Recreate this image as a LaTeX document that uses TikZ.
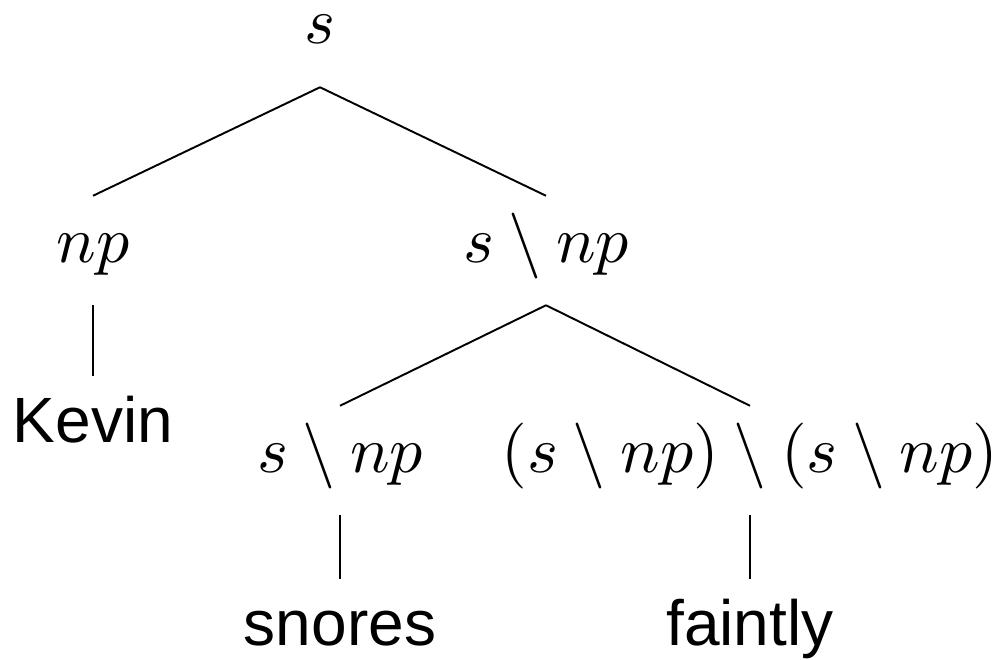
\RequirePackage{fix-cm}
\documentclass[tikz,border=0pt]{standalone}
\usepackage{fontspec}
\newfontfamily\wordfont{Liberation Sans}
\begin{document}
\begin{tikzpicture}[x=0.15625pt,y=-0.15625pt,
  base/.style={anchor=base,inner xsep=0pt,inner ysep=2.81pt,text height=7.34pt,text depth=3.75pt},
  lab/.style={base,font=\fontsize{10.3}{12}\selectfont},
  word/.style={base,font=\wordfont},
  edge/.style={line width=0.3pt}]
\useasboundingbox (0,0) rectangle (997,660);
\node[lab] (top) at (320,44) {$s$};
\node[lab] (np) at (93,262) {$np$};
\node[lab] (snp) at (546,262) {$s \setminus np$};
\node[word] (kevin) at (93,442) {Kevin};
\node[lab] (snp2) at (340,472) {$s \setminus np$};
\node[lab] (adv) at (750,472) {$(s \setminus np) \setminus (s \setminus np)$};
\node[word] (snores) at (340,645) {snores};
\node[word] (faintly) at (750,645) {faintly};
\draw[edge] (top.south) -- (np.north);
\draw[edge] (top.south) -- (snp.north);
\draw[edge] (np.south) -- (kevin.north);
\draw[edge] (snp.south) -- (snp2.north);
\draw[edge] (snp.south) -- (adv.north);
\draw[edge] (snp2.south) -- (snores.north);
\draw[edge] (adv.south) -- (faintly.north);
\end{tikzpicture}
\end{document}
